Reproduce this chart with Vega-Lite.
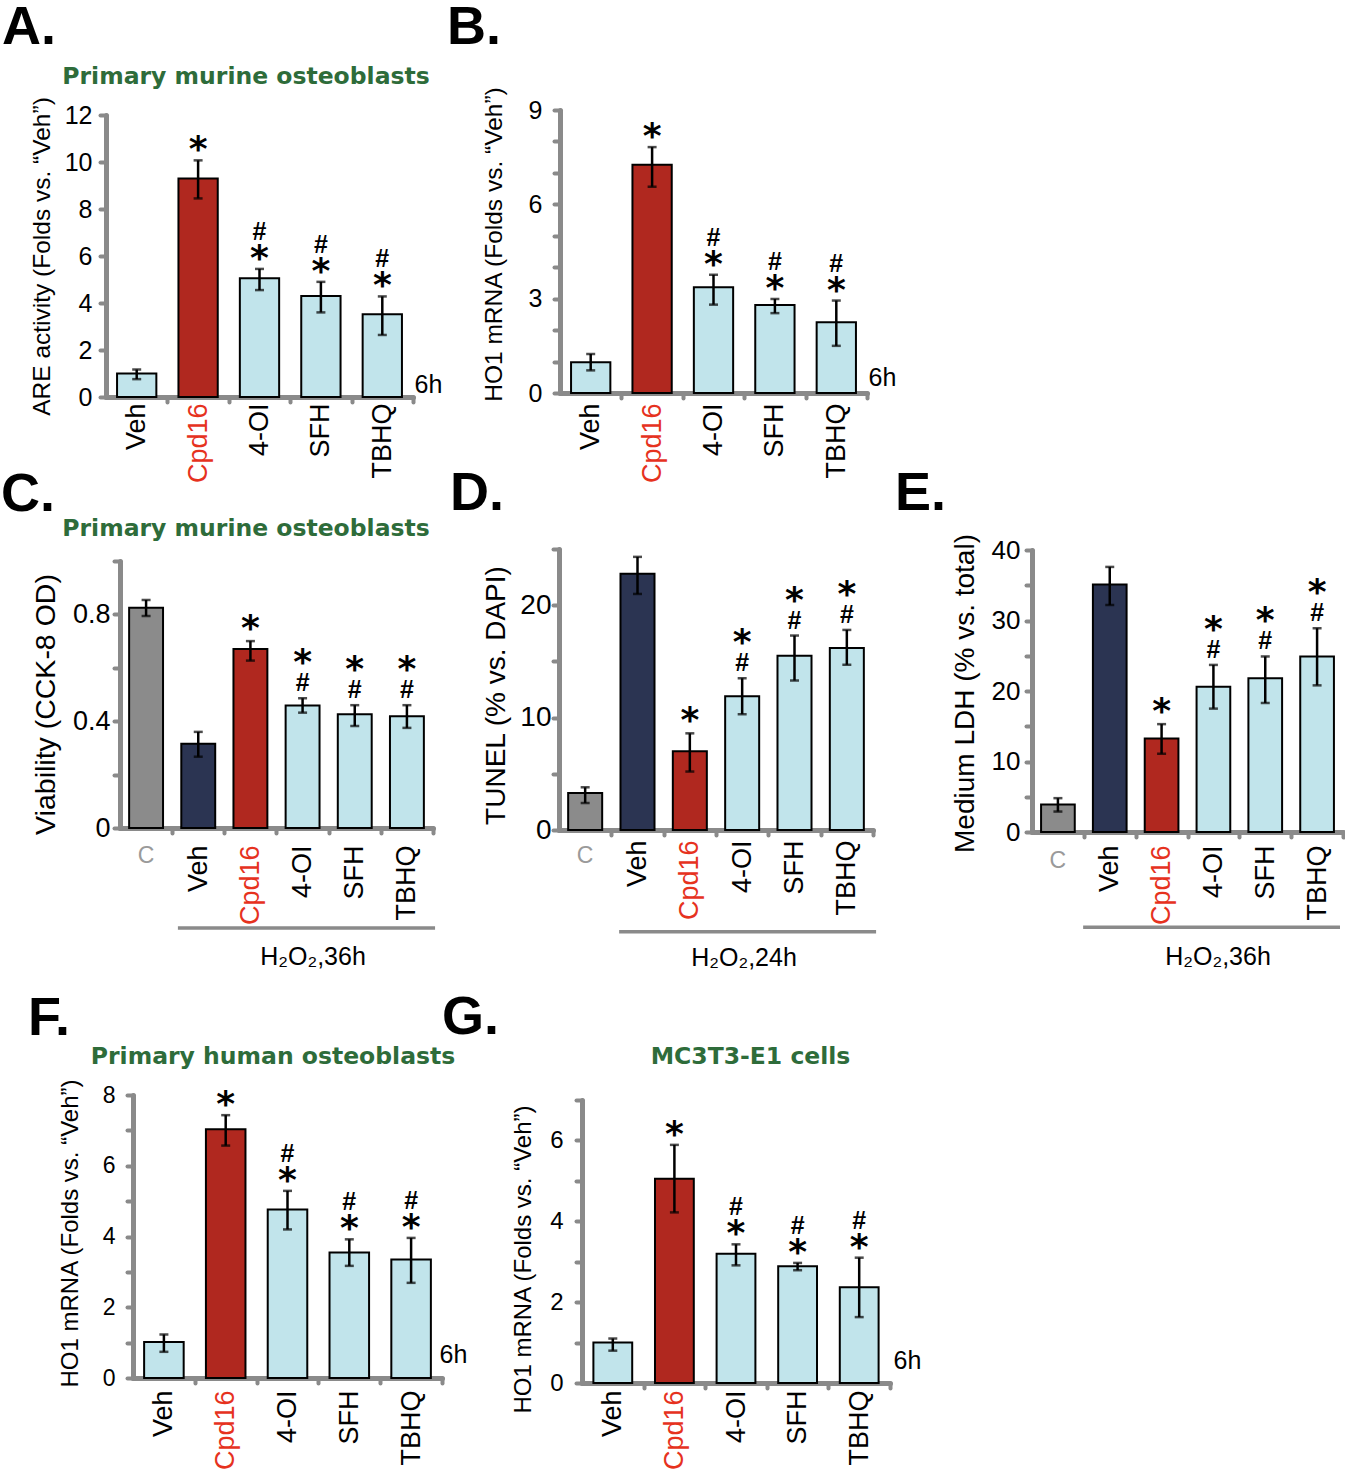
{
 "$schema": "https://vega.github.io/schema/vega-lite/v6.json",
 "padding": 0,
 "background": "white",
 "columns": 6,
 "spacing": 0,
 "bounds": "flush",
 "align": "each",
 "resolve": {"scale": {"fill": "independent"}},
 "config": {
  "view": {"stroke": null},
  "font": "Liberation Sans",
  "axis": {"domainColor": "#8a8a8a", "domainWidth": 5, "domainCap": "round", "tickColor": "#8a8a8a", "tickWidth": 4, "tickCap": "round", "titleColor": "black", "titleFontWeight": "normal", "grid": false, "labelFont": "Liberation Sans", "titleFont": "Liberation Sans", "labelOverlap": false},
  "title": {"font": "Liberation Sans", "fontWeight": "bold", "color": "black", "frame": "group"},
  "bar": {"stroke": "black", "strokeWidth": 2}
 },
 "datasets": {
  "A": [
   {"cat": "Veh", "mean": 1.0, "lo": 0.76, "hi": 1.17, "star": false, "hash": false},
   {"cat": "Cpd16", "mean": 9.3, "lo": 8.45, "hi": 10.07, "star": true, "hash": false},
   {"cat": "4-OI", "mean": 5.05, "lo": 4.55, "hi": 5.45, "star": true, "hash": true},
   {"cat": "SFH", "mean": 4.3, "lo": 3.6, "hi": 4.9, "star": true, "hash": true},
   {"cat": "TBHQ", "mean": 3.52, "lo": 2.64, "hi": 4.28, "star": true, "hash": true}
  ],
  "B": [
   {"cat": "Veh", "mean": 0.98, "lo": 0.72, "hi": 1.24, "star": false, "hash": false},
   {"cat": "Cpd16", "mean": 7.26, "lo": 6.56, "hi": 7.82, "star": true, "hash": false},
   {"cat": "4-OI", "mean": 3.36, "lo": 2.81, "hi": 3.76, "star": true, "hash": true},
   {"cat": "SFH", "mean": 2.8, "lo": 2.54, "hi": 2.99, "star": true, "hash": true},
   {"cat": "TBHQ", "mean": 2.25, "lo": 1.5, "hi": 2.94, "star": true, "hash": true}
  ],
  "C": [
   {"cat": "C", "mean": 0.825, "lo": 0.794, "hi": 0.854, "star": false, "hash": false},
   {"cat": "Veh", "mean": 0.316, "lo": 0.267, "hi": 0.36, "star": false, "hash": false},
   {"cat": "Cpd16", "mean": 0.67, "lo": 0.627, "hi": 0.7, "star": true, "hash": false},
   {"cat": "4-OI", "mean": 0.459, "lo": 0.432, "hi": 0.486, "star": true, "hash": true},
   {"cat": "SFH", "mean": 0.426, "lo": 0.382, "hi": 0.46, "star": true, "hash": true},
   {"cat": "TBHQ", "mean": 0.419, "lo": 0.375, "hi": 0.46, "star": true, "hash": true}
  ],
  "D": [
   {"cat": "C", "mean": 3.3, "lo": 2.4, "hi": 3.8, "star": false, "hash": false},
   {"cat": "Veh", "mean": 22.8, "lo": 21.0, "hi": 24.3, "star": false, "hash": false},
   {"cat": "Cpd16", "mean": 7.0, "lo": 5.2, "hi": 8.6, "star": true, "hash": false},
   {"cat": "4-OI", "mean": 11.9, "lo": 10.3, "hi": 13.5, "star": true, "hash": true},
   {"cat": "SFH", "mean": 15.5, "lo": 13.3, "hi": 17.3, "star": true, "hash": true},
   {"cat": "TBHQ", "mean": 16.2, "lo": 14.7, "hi": 17.8, "star": true, "hash": true}
  ],
  "E": [
   {"cat": "C", "mean": 3.9, "lo": 2.9, "hi": 4.8, "star": false, "hash": false},
   {"cat": "Veh", "mean": 35.1, "lo": 32.2, "hi": 37.6, "star": false, "hash": false},
   {"cat": "Cpd16", "mean": 13.25, "lo": 11.1, "hi": 15.3, "star": true, "hash": false},
   {"cat": "4-OI", "mean": 20.6, "lo": 17.5, "hi": 23.7, "star": true, "hash": true},
   {"cat": "SFH", "mean": 21.8, "lo": 18.3, "hi": 24.9, "star": true, "hash": true},
   {"cat": "TBHQ", "mean": 24.9, "lo": 20.8, "hi": 28.9, "star": true, "hash": true}
  ],
  "F": [
   {"cat": "Veh", "mean": 1.02, "lo": 0.74, "hi": 1.23, "star": false, "hash": false},
   {"cat": "Cpd16", "mean": 7.03, "lo": 6.57, "hi": 7.43, "star": true, "hash": false},
   {"cat": "4-OI", "mean": 4.76, "lo": 4.2, "hi": 5.29, "star": true, "hash": true},
   {"cat": "SFH", "mean": 3.55, "lo": 3.17, "hi": 3.92, "star": true, "hash": true},
   {"cat": "TBHQ", "mean": 3.35, "lo": 2.69, "hi": 3.96, "star": true, "hash": true}
  ],
  "G": [
   {"cat": "Veh", "mean": 1.0, "lo": 0.8, "hi": 1.1, "star": false, "hash": false},
   {"cat": "Cpd16", "mean": 5.05, "lo": 4.22, "hi": 5.89, "star": true, "hash": false},
   {"cat": "4-OI", "mean": 3.2, "lo": 2.91, "hi": 3.43, "star": true, "hash": true},
   {"cat": "SFH", "mean": 2.89, "lo": 2.79, "hi": 2.97, "star": true, "hash": true},
   {"cat": "TBHQ", "mean": 2.37, "lo": 1.63, "hi": 3.1, "star": true, "hash": true}
  ],
  "grp": [{"from": "Veh", "to": "TBHQ"}]
 },
 "concat": [
  {"width": 106, "height": 2, "data": {"values": [{}]}, "mark": {"type": "point", "opacity": 0, "size": 1},
   "title": {"text": "A.", "fontSize": 54, "anchor": "start", "dx": 2, "offset": -55}},
  {"width": 1, "height": 2, "data": {"values": [{}]}, "mark": {"type": "point", "opacity": 0, "size": 1},
   "title": {"text": "Primary murine osteoblasts", "font": "DejaVu Sans", "color": "#2e6c3a", "fontSize": 23.5, "anchor": "middle", "dx": 139.5, "offset": -88}},
  {"width": 117, "height": 2, "data": {"values": [{}]}, "mark": {"type": "point", "opacity": 0, "size": 1},
   "title": {"text": "B.", "fontSize": 54, "anchor": "start", "dx": 5, "offset": -55}},
  {"width": 1, "height": 110, "data": {"values": [{}]}, "mark": {"type": "point", "opacity": 0, "size": 1}},
  {"width": 142, "height": 2, "data": {"values": [{}]}, "mark": {"type": "point", "opacity": 0, "size": 1}},
  {"width": 1, "height": 2, "data": {"values": [{}]}, "mark": {"type": "point", "opacity": 0, "size": 1}},

  {"width": 1, "height": 2, "data": {"values": [{}]}, "mark": {"type": "point", "opacity": 0, "size": 1}},
  {
   "width": 307, "height": 287,
   "data": {"name": "A"},
   "encoding": {"x": {"field": "cat", "type": "nominal", "sort": null,
     "scale": {"domain": ["Veh", "Cpd16", "4-OI", "SFH", "TBHQ"], "paddingInner": 0.36, "paddingOuter": 0.18},
     "axis": {"title": "6h", "titleX": 308, "titleY": -13, "titleAlign": "left", "titleBaseline": "middle", "titleAngle": 0, "titleFontSize": 25,
       "labelFontSize": 27, "labelPadding": 1, "tickSize": 5, "tickOffset": 30.7, "labelOffset": -30.7, "labelAngle": -90, "labelAlign": "right", "labelBaseline": "middle", "labelOverlap": false,
       "labelColor": {"condition": {"test": "datum.value === 'Cpd16'", "value": "#e6321e"}, "value": "black"}}}},
   "layer": [
    {"mark": {"type": "bar"}, "encoding": {
      "y": {"field": "mean", "type": "quantitative", "scale": {"domain": [0, 12], "range": [287, 5]},
        "axis": {"values": [0, 2, 4, 6, 8, 10, 12], "tickCount": 30, "format": "d", "labelOverlap": false, "title": "ARE activity (Folds vs. “Veh”)", "titleFontSize": 24.5, "titleX": -64, "titleY": 146, "titleAngle": -90, "titleAlign": "center", "titleBaseline": "middle", "labelFontSize": 25, "labelPadding": 8, "tickSize": 6, "labelColor": "black"}},
      "fill": {"field": "cat", "type": "nominal", "scale": {"domain": ["Veh", "Cpd16", "4-OI", "SFH", "TBHQ"], "range": ["#c1e4eb", "#b0281f", "#c1e4eb", "#c1e4eb", "#c1e4eb"]}, "legend": null}}},
    {"mark": {"type": "rule", "color": "black", "strokeWidth": 2.5}, "encoding": {"y": {"field": "lo", "type": "quantitative", "scale": {"domain": [0, 12], "range": [287, 5]}}, "y2": {"field": "hi"}}},
    {"mark": {"type": "tick", "color": "black", "thickness": 2.5, "size": 9}, "encoding": {"y": {"field": "lo", "type": "quantitative", "scale": {"domain": [0, 12], "range": [287, 5]}}}},
    {"mark": {"type": "tick", "color": "black", "thickness": 2.5, "size": 9}, "encoding": {"y": {"field": "hi", "type": "quantitative", "scale": {"domain": [0, 12], "range": [287, 5]}}}},
    {"transform": [{"filter": "datum.star"}], "mark": {"type": "text", "text": "*", "font": "DejaVu Sans", "fontWeight": "bold", "fontSize": 36, "baseline": "alphabetic", "dy": 1, "color": "black"}, "encoding": {"y": {"field": "hi", "type": "quantitative", "scale": {"domain": [0, 12], "range": [287, 5]}}}},
    {"transform": [{"filter": "datum.hash"}], "mark": {"type": "text", "text": "#", "font": "Liberation Sans", "fontWeight": "bold", "fontSize": 25, "baseline": "alphabetic", "dy": -29, "color": "black"}, "encoding": {"y": {"field": "hi", "type": "quantitative", "scale": {"domain": [0, 12], "range": [287, 5]}}}}
   ]
  },
  {"width": 1, "height": 2, "data": {"values": [{}]}, "mark": {"type": "point", "opacity": 0, "size": 1}},
  {
   "width": 308, "height": 283,
   "data": {"name": "B"},
   "encoding": {"x": {"field": "cat", "type": "nominal", "sort": null,
     "scale": {"domain": ["Veh", "Cpd16", "4-OI", "SFH", "TBHQ"], "range": [1, 308], "paddingInner": 0.36, "paddingOuter": 0.18},
     "axis": {"title": "6h", "titleX": 309, "titleY": -16, "titleAlign": "left", "titleBaseline": "middle", "titleAngle": 0, "titleFontSize": 25,
       "labelFontSize": 27, "labelPadding": 5, "tickSize": 5, "tickOffset": 30.7, "labelOffset": -30.7, "labelAngle": -90, "labelAlign": "right", "labelBaseline": "middle", "labelOverlap": false,
       "labelColor": {"condition": {"test": "datum.value === 'Cpd16'", "value": "#e6321e"}, "value": "black"}}}},
   "layer": [
    {"mark": {"type": "bar"}, "encoding": {
      "y": {"field": "mean", "type": "quantitative", "scale": {"domain": [0, 9]},
        "axis": {"offset": -1, "values": [0, 1, 2, 3, 4, 5, 6, 7, 8, 9], "tickCount": 30, "format": "d", "labelOverlap": false, "labelExpr": "datum.value % 3 === 0 ? datum.label : ''", "title": "HO1 mRNA (Folds vs. “Veh”)", "titleFontSize": 24.5, "titleX": -66, "titleY": 134, "titleAngle": -90, "titleAlign": "center", "titleBaseline": "middle", "labelFontSize": 25, "labelPadding": 12, "tickSize": 6, "labelColor": "black"}},
      "fill": {"field": "cat", "type": "nominal", "scale": {"domain": ["Veh", "Cpd16", "4-OI", "SFH", "TBHQ"], "range": ["#c1e4eb", "#b0281f", "#c1e4eb", "#c1e4eb", "#c1e4eb"]}, "legend": null}}},
    {"mark": {"type": "rule", "color": "black", "strokeWidth": 2.5}, "encoding": {"y": {"field": "lo", "type": "quantitative", "scale": {"domain": [0, 9]}}, "y2": {"field": "hi"}}},
    {"mark": {"type": "tick", "color": "black", "thickness": 2.5, "size": 9}, "encoding": {"y": {"field": "lo", "type": "quantitative", "scale": {"domain": [0, 9]}}}},
    {"mark": {"type": "tick", "color": "black", "thickness": 2.5, "size": 9}, "encoding": {"y": {"field": "hi", "type": "quantitative", "scale": {"domain": [0, 9]}}}},
    {"transform": [{"filter": "datum.star"}], "mark": {"type": "text", "text": "*", "font": "DejaVu Sans", "fontWeight": "bold", "fontSize": 36, "baseline": "alphabetic", "dy": 1, "color": "black"}, "encoding": {"y": {"field": "hi", "type": "quantitative", "scale": {"domain": [0, 9]}}}},
    {"transform": [{"filter": "datum.hash"}], "mark": {"type": "text", "text": "#", "font": "Liberation Sans", "fontWeight": "bold", "fontSize": 25, "baseline": "alphabetic", "dy": -29, "color": "black"}, "encoding": {"y": {"field": "hi", "type": "quantitative", "scale": {"domain": [0, 9]}}}}
   ]
  },
  {"width": 1, "height": 2, "data": {"values": [{}]}, "mark": {"type": "point", "opacity": 0, "size": 1}},
  {"width": 1, "height": 2, "data": {"values": [{}]}, "mark": {"type": "point", "opacity": 0, "size": 1}},

  {"width": 1, "height": 2, "data": {"values": [{}]}, "mark": {"type": "point", "opacity": 0, "size": 1},
   "title": {"text": "C.", "fontSize": 54, "anchor": "start", "dx": 1, "offset": -125}},
  {"width": 1, "height": 2, "data": {"values": [{}]}, "mark": {"type": "point", "opacity": 0, "size": 1},
   "title": {"text": "Primary murine osteoblasts", "font": "DejaVu Sans", "color": "#2e6c3a", "fontSize": 23.5, "anchor": "middle", "dx": 139.5, "offset": -143}},
  {"width": 1, "height": 2, "data": {"values": [{}]}, "mark": {"type": "point", "opacity": 0, "size": 1},
   "title": {"text": "D.", "fontSize": 54, "anchor": "start", "dx": 8, "offset": -124}},
  {"width": 1, "height": 152, "data": {"values": [{}]}, "mark": {"type": "point", "opacity": 0, "size": 1}},
  {"width": 1, "height": 2, "data": {"values": [{}]}, "mark": {"type": "point", "opacity": 0, "size": 1},
   "title": {"text": "E.", "fontSize": 54, "anchor": "start", "dx": 5, "offset": -124}},
  {"width": 1, "height": 2, "data": {"values": [{}]}, "mark": {"type": "point", "opacity": 0, "size": 1}},

  {"width": 1, "height": 2, "data": {"values": [{}]}, "mark": {"type": "point", "opacity": 0, "size": 1}},
  {
   "width": 327, "height": 279,
   "data": {"name": "C"},
   "encoding": {"x": {"field": "cat", "type": "nominal", "sort": null,
     "scale": {"domain": ["C", "Veh", "Cpd16", "4-OI", "SFH", "TBHQ"], "range": [14, 327], "paddingInner": 0.35, "paddingOuter": 0.175},
     "axis": {"title": "H₂O₂,36h", "titleX": 206.5, "titleY": 128, "titleAlign": "center", "titleBaseline": "middle", "titleAngle": 0, "titleFontSize": 25,
       "tickSize": 5, "tickOffset": 26.08, "labelOffset": -26.08, "labelFontSize": 27, "labelPadding": 12, "labelAngle": -90, "labelAlign": "right", "labelBaseline": "middle", "labelOverlap": false,
       "labelExpr": "datum.value === 'C' ? '' : datum.label",
       "labelColor": {"condition": {"test": "datum.value === 'Cpd16'", "value": "#e6321e"}, "value": "black"}}}},
   "layer": [
    {"mark": {"type": "bar"}, "encoding": {
      "y": {"field": "mean", "type": "quantitative", "scale": {"domain": [0, 1], "range": [279, 12]},
        "axis": {"offset": -14, "values": [0, 0.2, 0.4, 0.6, 0.8, 1], "tickCount": 30, "labelOverlap": false, "labelExpr": "datum.value === 0 ? '0' : (abs(datum.value - 0.4) < 0.001 ? '0.4' : (abs(datum.value - 0.8) < 0.001 ? '0.8' : ''))", "title": "Viability (CCK-8 OD)", "titleFontSize": 28.5, "titleX": -75, "titleY": 155, "titleAngle": -90, "titleAlign": "center", "titleBaseline": "middle", "labelFontSize": 27, "labelPadding": 4, "tickSize": 6, "labelColor": "black"}},
      "fill": {"field": "cat", "type": "nominal", "scale": {"domain": ["C", "Veh", "Cpd16", "4-OI", "SFH", "TBHQ"], "range": ["#8b8b8b", "#2b3452", "#b0281f", "#c1e4eb", "#c1e4eb", "#c1e4eb"]}, "legend": null}}},
    {"mark": {"type": "rule", "color": "black", "strokeWidth": 2.5}, "encoding": {"y": {"field": "lo", "type": "quantitative", "scale": {"domain": [0, 1], "range": [279, 12]}}, "y2": {"field": "hi"}}},
    {"mark": {"type": "tick", "color": "black", "thickness": 2.5, "size": 9}, "encoding": {"y": {"field": "lo", "type": "quantitative", "scale": {"domain": [0, 1], "range": [279, 12]}}}},
    {"mark": {"type": "tick", "color": "black", "thickness": 2.5, "size": 9}, "encoding": {"y": {"field": "hi", "type": "quantitative", "scale": {"domain": [0, 1], "range": [279, 12]}}}},
    {"transform": [{"filter": "datum.star && !datum.hash"}], "mark": {"type": "text", "text": "*", "font": "DejaVu Sans", "fontWeight": "bold", "fontSize": 36, "baseline": "alphabetic", "dy": -1.5, "color": "black"}, "encoding": {"y": {"field": "hi", "type": "quantitative", "scale": {"domain": [0, 1], "range": [279, 12]}}}},
    {"transform": [{"filter": "datum.star && datum.hash"}], "mark": {"type": "text", "text": "*", "font": "DejaVu Sans", "fontWeight": "bold", "fontSize": 36, "baseline": "alphabetic", "dy": -24, "color": "black"}, "encoding": {"y": {"field": "hi", "type": "quantitative", "scale": {"domain": [0, 1], "range": [279, 12]}}}},
    {"transform": [{"filter": "datum.hash"}], "mark": {"type": "text", "text": "#", "font": "Liberation Sans", "fontWeight": "bold", "fontSize": 25, "baseline": "alphabetic", "dy": -7, "color": "black"}, "encoding": {"y": {"field": "hi", "type": "quantitative", "scale": {"domain": [0, 1], "range": [279, 12]}}}},
    {"transform": [{"filter": "datum.cat === 'C'"}], "mark": {"type": "text", "baseline": "top", "fontSize": 23, "color": "#9a9a9a"}, "encoding": {"text": {"field": "cat"}, "y": {"datum": -0.062, "type": "quantitative", "scale": {"domain": [0, 1], "range": [279, 12]}}}},
    {"data": {"name": "grp"}, "mark": {"type": "rule", "color": "#8a8a8a", "strokeWidth": 3.5}, "encoding": {
      "x": {"field": "from", "type": "nominal", "bandPosition": -0.1, "scale": {"domain": ["C", "Veh", "Cpd16", "4-OI", "SFH", "TBHQ"], "range": [14, 327]}},
      "x2": {"field": "to", "bandPosition": 1.33},
      "y": {"datum": -0.3745, "type": "quantitative", "scale": {"domain": [0, 1], "range": [279, 12]}}}}
   ]
  },
  {"width": 1, "height": 2, "data": {"values": [{}]}, "mark": {"type": "point", "opacity": 0, "size": 1}},
  {
   "width": 314, "height": 281,
   "data": {"name": "D"},
   "encoding": {"x": {"field": "cat", "type": "nominal", "sort": null,
     "scale": {"domain": ["C", "Veh", "Cpd16", "4-OI", "SFH", "TBHQ"], "paddingInner": 0.35, "paddingOuter": 0.175},
     "axis": {"title": "H₂O₂,24h", "titleX": 184.5, "titleY": 127, "titleAlign": "center", "titleBaseline": "middle", "titleAngle": 0, "titleFontSize": 25,
       "tickSize": 5, "tickOffset": 26.17, "labelOffset": -26.17, "labelFontSize": 27, "labelPadding": 5, "labelAngle": -90, "labelAlign": "right", "labelBaseline": "middle", "labelOverlap": false,
       "labelExpr": "datum.value === 'C' ? '' : datum.label",
       "labelColor": {"condition": {"test": "datum.value === 'Cpd16'", "value": "#e6321e"}, "value": "black"}}}},
   "layer": [
    {"mark": {"type": "bar"}, "encoding": {
      "y": {"field": "mean", "type": "quantitative", "scale": {"domain": [0, 25]},
        "axis": {"values": [0, 5, 10, 15, 20, 25], "tickCount": 30, "format": "d", "labelOverlap": false, "labelExpr": "datum.value % 10 === 0 ? datum.label : ''", "title": "TUNEL (% vs. DAPI)", "titleFontSize": 28, "titleX": -63, "titleY": 146, "titleAngle": -90, "titleAlign": "center", "titleBaseline": "middle", "labelFontSize": 28, "labelPadding": 2, "tickSize": 6, "labelColor": "black"}},
      "fill": {"field": "cat", "type": "nominal", "scale": {"domain": ["C", "Veh", "Cpd16", "4-OI", "SFH", "TBHQ"], "range": ["#8b8b8b", "#2b3452", "#b0281f", "#c1e4eb", "#c1e4eb", "#c1e4eb"]}, "legend": null}}},
    {"mark": {"type": "rule", "color": "black", "strokeWidth": 2.5}, "encoding": {"y": {"field": "lo", "type": "quantitative", "scale": {"domain": [0, 25]}}, "y2": {"field": "hi"}}},
    {"mark": {"type": "tick", "color": "black", "thickness": 2.5, "size": 9}, "encoding": {"y": {"field": "lo", "type": "quantitative", "scale": {"domain": [0, 25]}}}},
    {"mark": {"type": "tick", "color": "black", "thickness": 2.5, "size": 9}, "encoding": {"y": {"field": "hi", "type": "quantitative", "scale": {"domain": [0, 25]}}}},
    {"transform": [{"filter": "datum.star && !datum.hash"}], "mark": {"type": "text", "text": "*", "font": "DejaVu Sans", "fontWeight": "bold", "fontSize": 36, "baseline": "alphabetic", "dy": -1.5, "color": "black"}, "encoding": {"y": {"field": "hi", "type": "quantitative", "scale": {"domain": [0, 25]}}}},
    {"transform": [{"filter": "datum.star && datum.hash"}], "mark": {"type": "text", "text": "*", "font": "DejaVu Sans", "fontWeight": "bold", "fontSize": 36, "baseline": "alphabetic", "dy": -24, "color": "black"}, "encoding": {"y": {"field": "hi", "type": "quantitative", "scale": {"domain": [0, 25]}}}},
    {"transform": [{"filter": "datum.hash"}], "mark": {"type": "text", "text": "#", "font": "Liberation Sans", "fontWeight": "bold", "fontSize": 25, "baseline": "alphabetic", "dy": -7, "color": "black"}, "encoding": {"y": {"field": "hi", "type": "quantitative", "scale": {"domain": [0, 25]}}}},
    {"transform": [{"filter": "datum.cat === 'C'"}], "mark": {"type": "text", "baseline": "top", "fontSize": 23, "color": "#9a9a9a"}, "encoding": {"text": {"field": "cat"}, "y": {"datum": -1.3, "type": "quantitative", "scale": {"domain": [0, 25]}}}},
    {"data": {"name": "grp"}, "mark": {"type": "rule", "color": "#8a8a8a", "strokeWidth": 3.5}, "encoding": {
      "x": {"field": "from", "type": "nominal", "bandPosition": -0.04, "scale": {"domain": ["C", "Veh", "Cpd16", "4-OI", "SFH", "TBHQ"]}},
      "x2": {"field": "to", "bandPosition": 1.36},
      "y": {"datum": -9.05, "type": "quantitative", "scale": {"domain": [0, 25]}}}}
   ]
  },
  {"width": 1, "height": 2, "data": {"values": [{}]}, "mark": {"type": "point", "opacity": 0, "size": 1}},
  {
   "width": 311, "height": 283,
   "data": {"name": "E"},
   "encoding": {"x": {"field": "cat", "type": "nominal", "sort": null,
     "scale": {"domain": ["C", "Veh", "Cpd16", "4-OI", "SFH", "TBHQ"], "paddingInner": 0.35, "paddingOuter": 0.175},
     "axis": {"title": "H₂O₂,36h", "titleX": 185.5, "titleY": 124, "titleAlign": "center", "titleBaseline": "middle", "titleAngle": 0, "titleFontSize": 25,
       "tickSize": 5, "tickOffset": 25.92, "labelOffset": -25.92, "labelFontSize": 27, "labelPadding": 8, "labelAngle": -90, "labelAlign": "right", "labelBaseline": "middle", "labelOverlap": false,
       "labelExpr": "datum.value === 'C' ? '' : datum.label",
       "labelColor": {"condition": {"test": "datum.value === 'Cpd16'", "value": "#e6321e"}, "value": "black"}}}},
   "layer": [
    {"mark": {"type": "bar"}, "encoding": {
      "y": {"field": "mean", "type": "quantitative", "scale": {"domain": [0, 40], "range": [283, 1]},
        "axis": {"values": [0, 5, 10, 15, 20, 25, 30, 35, 40], "tickCount": 30, "format": "d", "labelOverlap": false, "labelExpr": "datum.value % 10 === 0 ? datum.label : ''", "title": "Medium LDH (% vs. total)", "titleFontSize": 28, "titleX": -67, "titleY": 144, "titleAngle": -90, "titleAlign": "center", "titleBaseline": "middle", "labelFontSize": 26, "labelPadding": 6, "tickSize": 6, "labelColor": "black"}},
      "fill": {"field": "cat", "type": "nominal", "scale": {"domain": ["C", "Veh", "Cpd16", "4-OI", "SFH", "TBHQ"], "range": ["#8b8b8b", "#2b3452", "#b0281f", "#c1e4eb", "#c1e4eb", "#c1e4eb"]}, "legend": null}}},
    {"mark": {"type": "rule", "color": "black", "strokeWidth": 2.5}, "encoding": {"y": {"field": "lo", "type": "quantitative", "scale": {"domain": [0, 40], "range": [283, 1]}}, "y2": {"field": "hi"}}},
    {"mark": {"type": "tick", "color": "black", "thickness": 2.5, "size": 9}, "encoding": {"y": {"field": "lo", "type": "quantitative", "scale": {"domain": [0, 40], "range": [283, 1]}}}},
    {"mark": {"type": "tick", "color": "black", "thickness": 2.5, "size": 9}, "encoding": {"y": {"field": "hi", "type": "quantitative", "scale": {"domain": [0, 40], "range": [283, 1]}}}},
    {"transform": [{"filter": "datum.star && !datum.hash"}], "mark": {"type": "text", "text": "*", "font": "DejaVu Sans", "fontWeight": "bold", "fontSize": 36, "baseline": "alphabetic", "dy": -1.5, "color": "black"}, "encoding": {"y": {"field": "hi", "type": "quantitative", "scale": {"domain": [0, 40], "range": [283, 1]}}}},
    {"transform": [{"filter": "datum.star && datum.hash"}], "mark": {"type": "text", "text": "*", "font": "DejaVu Sans", "fontWeight": "bold", "fontSize": 36, "baseline": "alphabetic", "dy": -24, "color": "black"}, "encoding": {"y": {"field": "hi", "type": "quantitative", "scale": {"domain": [0, 40], "range": [283, 1]}}}},
    {"transform": [{"filter": "datum.hash"}], "mark": {"type": "text", "text": "#", "font": "Liberation Sans", "fontWeight": "bold", "fontSize": 25, "baseline": "alphabetic", "dy": -7, "color": "black"}, "encoding": {"y": {"field": "hi", "type": "quantitative", "scale": {"domain": [0, 40], "range": [283, 1]}}}},
    {"transform": [{"filter": "datum.cat === 'C'"}], "mark": {"type": "text", "baseline": "top", "fontSize": 23, "color": "#9a9a9a"}, "encoding": {"text": {"field": "cat"}, "y": {"datum": -2.5, "type": "quantitative", "scale": {"domain": [0, 40], "range": [283, 1]}}}},
    {"data": {"name": "grp"}, "mark": {"type": "rule", "color": "#8a8a8a", "strokeWidth": 3.5}, "encoding": {
      "x": {"field": "from", "type": "nominal", "bandPosition": -0.29, "scale": {"domain": ["C", "Veh", "Cpd16", "4-OI", "SFH", "TBHQ"]}},
      "x2": {"field": "to", "bandPosition": 1.18},
      "y": {"datum": -13.52, "type": "quantitative", "scale": {"domain": [0, 40], "range": [283, 1]}}}}
   ]
  },

  {"width": 1, "height": 2, "data": {"values": [{}]}, "mark": {"type": "point", "opacity": 0, "size": 1},
   "title": {"text": "F.", "fontSize": 54, "anchor": "start", "dx": 28, "offset": -214}},
  {"width": 1, "height": 2, "data": {"values": [{}]}, "mark": {"type": "point", "opacity": 0, "size": 1},
   "title": {"text": "Primary human osteoblasts", "font": "DejaVu Sans", "color": "#2e6c3a", "fontSize": 23.5, "anchor": "middle", "dx": 166.5, "offset": -236}},
  {"width": 1, "height": 2, "data": {"values": [{}]}, "mark": {"type": "point", "opacity": 0, "size": 1},
   "title": {"text": "G.", "fontSize": 54, "anchor": "start", "dx": 0, "offset": -213}},
  {"width": 1, "height": 2, "data": {"values": [{}]}, "mark": {"type": "point", "opacity": 0, "size": 1},
   "title": {"text": "MC3T3-E1 cells", "font": "DejaVu Sans", "color": "#2e6c3a", "fontSize": 23.5, "anchor": "middle", "dx": 191, "offset": -236}},
  {"width": 1, "height": 263, "data": {"values": [{}]}, "mark": {"type": "point", "opacity": 0, "size": 1}},
  {"width": 1, "height": 2, "data": {"values": [{}]}, "mark": {"type": "point", "opacity": 0, "size": 1}},

  {"width": 1, "height": 2, "data": {"values": [{}]}, "mark": {"type": "point", "opacity": 0, "size": 1}},
  {
   "width": 336, "height": 283,
   "data": {"name": "F"},
   "encoding": {"x": {"field": "cat", "type": "nominal", "sort": null,
     "scale": {"domain": ["Veh", "Cpd16", "4-OI", "SFH", "TBHQ"], "range": [27, 336], "paddingInner": 0.36, "paddingOuter": 0.18},
     "axis": {"title": "6h", "titleX": 333, "titleY": -24, "titleAlign": "left", "titleBaseline": "middle", "titleAngle": 0, "titleFontSize": 25,
       "labelFontSize": 27, "labelPadding": 7, "tickSize": 5, "tickOffset": 30.9, "labelOffset": -30.9, "labelAngle": -90, "labelAlign": "right", "labelBaseline": "middle", "labelOverlap": false,
       "labelColor": {"condition": {"test": "datum.value === 'Cpd16'", "value": "#e6321e"}, "value": "black"}}}},
   "layer": [
    {"mark": {"type": "bar"}, "encoding": {
      "y": {"field": "mean", "type": "quantitative", "scale": {"domain": [0, 8]},
        "axis": {"offset": -27, "values": [0, 1, 2, 3, 4, 5, 6, 7, 8], "tickCount": 30, "format": "d", "labelOverlap": false, "labelExpr": "datum.value % 2 === 0 ? datum.label : ''", "title": "HO1 mRNA (Folds vs. “Veh”)", "titleFontSize": 24, "titleX": -63, "titleY": 138, "titleAngle": -90, "titleAlign": "center", "titleBaseline": "middle", "labelFontSize": 23, "labelPadding": 12, "tickSize": 6, "labelColor": "black"}},
      "fill": {"field": "cat", "type": "nominal", "scale": {"domain": ["Veh", "Cpd16", "4-OI", "SFH", "TBHQ"], "range": ["#c1e4eb", "#b0281f", "#c1e4eb", "#c1e4eb", "#c1e4eb"]}, "legend": null}}},
    {"mark": {"type": "rule", "color": "black", "strokeWidth": 2.5}, "encoding": {"y": {"field": "lo", "type": "quantitative", "scale": {"domain": [0, 8]}}, "y2": {"field": "hi"}}},
    {"mark": {"type": "tick", "color": "black", "thickness": 2.5, "size": 9}, "encoding": {"y": {"field": "lo", "type": "quantitative", "scale": {"domain": [0, 8]}}}},
    {"mark": {"type": "tick", "color": "black", "thickness": 2.5, "size": 9}, "encoding": {"y": {"field": "hi", "type": "quantitative", "scale": {"domain": [0, 8]}}}},
    {"transform": [{"filter": "datum.star"}], "mark": {"type": "text", "text": "*", "font": "DejaVu Sans", "fontWeight": "bold", "fontSize": 36, "baseline": "alphabetic", "dy": 1, "color": "black"}, "encoding": {"y": {"field": "hi", "type": "quantitative", "scale": {"domain": [0, 8]}}}},
    {"transform": [{"filter": "datum.hash"}], "mark": {"type": "text", "text": "#", "font": "Liberation Sans", "fontWeight": "bold", "fontSize": 25, "baseline": "alphabetic", "dy": -29, "color": "black"}, "encoding": {"y": {"field": "hi", "type": "quantitative", "scale": {"domain": [0, 8]}}}}
   ]
  },
  {"width": 1, "height": 2, "data": {"values": [{}]}, "mark": {"type": "point", "opacity": 0, "size": 1}},
  {
   "width": 331, "height": 288,
   "data": {"name": "G"},
   "encoding": {"x": {"field": "cat", "type": "nominal", "sort": null,
     "scale": {"domain": ["Veh", "Cpd16", "4-OI", "SFH", "TBHQ"], "range": [23, 331], "paddingInner": 0.37, "paddingOuter": 0.185},
     "axis": {"title": "6h", "titleX": 334, "titleY": -23, "titleAlign": "left", "titleBaseline": "middle", "titleAngle": 0, "titleFontSize": 25,
       "labelFontSize": 27, "labelPadding": 2, "tickSize": 5, "tickOffset": 30.8, "labelOffset": -30.8, "labelAngle": -90, "labelAlign": "right", "labelBaseline": "middle", "labelOverlap": false,
       "labelColor": {"condition": {"test": "datum.value === 'Cpd16'", "value": "#e6321e"}, "value": "black"}}}},
   "layer": [
    {"mark": {"type": "bar"}, "encoding": {
      "y": {"field": "mean", "type": "quantitative", "scale": {"domain": [0, 7], "range": [288, 5]},
        "axis": {"offset": -23, "values": [0, 1, 2, 3, 4, 5, 6, 7], "tickCount": 30, "format": "d", "labelOverlap": false, "labelExpr": "datum.value % 2 === 0 ? datum.label : ''", "title": "HO1 mRNA (Folds vs. “Veh”)", "titleFontSize": 24, "titleX": -59, "titleY": 164, "titleAngle": -90, "titleAlign": "center", "titleBaseline": "middle", "labelFontSize": 24, "labelPadding": 13, "tickSize": 6, "labelColor": "black"}},
      "fill": {"field": "cat", "type": "nominal", "scale": {"domain": ["Veh", "Cpd16", "4-OI", "SFH", "TBHQ"], "range": ["#c1e4eb", "#b0281f", "#c1e4eb", "#c1e4eb", "#c1e4eb"]}, "legend": null}}},
    {"mark": {"type": "rule", "color": "black", "strokeWidth": 2.5}, "encoding": {"y": {"field": "lo", "type": "quantitative", "scale": {"domain": [0, 7], "range": [288, 5]}}, "y2": {"field": "hi"}}},
    {"mark": {"type": "tick", "color": "black", "thickness": 2.5, "size": 9}, "encoding": {"y": {"field": "lo", "type": "quantitative", "scale": {"domain": [0, 7], "range": [288, 5]}}}},
    {"mark": {"type": "tick", "color": "black", "thickness": 2.5, "size": 9}, "encoding": {"y": {"field": "hi", "type": "quantitative", "scale": {"domain": [0, 7], "range": [288, 5]}}}},
    {"transform": [{"filter": "datum.star"}], "mark": {"type": "text", "text": "*", "font": "DejaVu Sans", "fontWeight": "bold", "fontSize": 36, "baseline": "alphabetic", "dy": 1, "color": "black"}, "encoding": {"y": {"field": "hi", "type": "quantitative", "scale": {"domain": [0, 7], "range": [288, 5]}}}},
    {"transform": [{"filter": "datum.hash"}], "mark": {"type": "text", "text": "#", "font": "Liberation Sans", "fontWeight": "bold", "fontSize": 25, "baseline": "alphabetic", "dy": -29, "color": "black"}, "encoding": {"y": {"field": "hi", "type": "quantitative", "scale": {"domain": [0, 7], "range": [288, 5]}}}}
   ]
  }
 ]
}
